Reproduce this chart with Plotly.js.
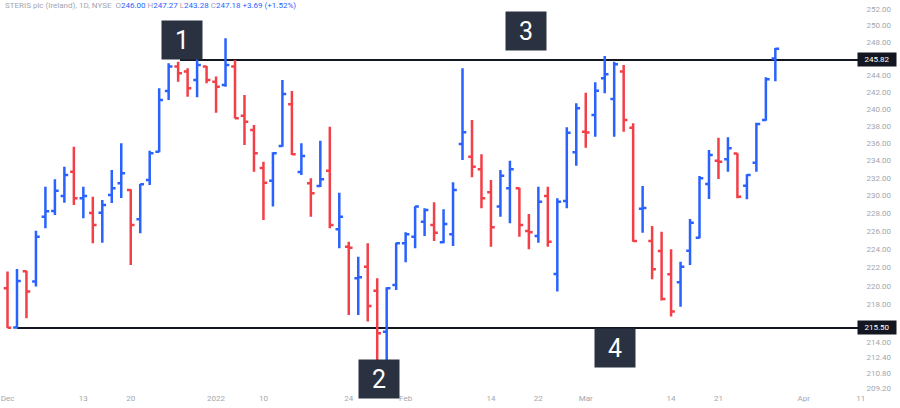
<!DOCTYPE html>
<html><head><meta charset="utf-8">
<script src="https://cdn.plot.ly/plotly-3.0.1.min.js"></script>
<style>html,body{margin:0;padding:0;background:#fff;}#chart{width:900px;height:408px;}</style>
</head><body><div id="chart"></div>
<script>
const dates = ['2021-12-01','2021-12-02','2021-12-03','2021-12-06','2021-12-07','2021-12-08','2021-12-09','2021-12-10',
'2021-12-13','2021-12-14','2021-12-15','2021-12-16','2021-12-17','2021-12-20','2021-12-21','2021-12-22','2021-12-23',
'2021-12-27','2021-12-28','2021-12-29','2021-12-30','2021-12-31','2022-01-03','2022-01-04','2022-01-05','2022-01-06',
'2022-01-07','2022-01-10','2022-01-11','2022-01-12','2022-01-13','2022-01-14','2022-01-18','2022-01-19','2022-01-20',
'2022-01-21','2022-01-24','2022-01-25','2022-01-26','2022-01-27','2022-01-28','2022-01-31','2022-02-01','2022-02-02',
'2022-02-03','2022-02-04','2022-02-07','2022-02-08','2022-02-09','2022-02-10','2022-02-11','2022-02-14','2022-02-15',
'2022-02-16','2022-02-17','2022-02-18','2022-02-22','2022-02-23','2022-02-24','2022-02-25','2022-02-28','2022-03-01',
'2022-03-02','2022-03-03','2022-03-04','2022-03-07','2022-03-08','2022-03-09','2022-03-10','2022-03-11','2022-03-14',
'2022-03-15','2022-03-16','2022-03-17','2022-03-18','2022-03-21','2022-03-22','2022-03-23','2022-03-24','2022-03-25',
'2022-03-28','2022-03-29'];

const openP = [219.75,215.55,221.60,220.47,227.61,228.25,229.93,232.70,229.68,228.02,
228.06,230.04,231.37,230.61,227.32,231.75,235.00,242.10,245.02,244.42,
243.42,245.02,243.22,242.82,245.02,239.19,237.51,233.12,231.67,235.65,
240.53,232.66,231.37,231.07,232.81,226.21,224.28,220.83,222.09,219.49,
215.11,220.11,224.66,225.39,227.05,226.68,224.77,225.65,235.89,234.42,
232.97,230.35,228.74,230.80,230.80,226.02,225.47,229.93,221.30,229.38,
234.93,237.31,239.27,243.62,241.16,244.42,237.78,228.50,224.91,223.81,
221.27,220.40,223.84,225.28,231.29,233.96,234.12,234.78,231.10,233.73,
238.68,246.00];

const highP = [221.55,221.84,221.65,226.05,230.99,231.83,233.27,235.57,230.99,229.85,
229.49,232.89,235.97,230.69,231.30,235.11,242.42,245.42,245.62,244.82,
245.91,245.10,243.82,248.46,245.82,241.63,238.10,233.84,234.93,243.42,
242.10,235.97,231.95,236.27,237.90,230.30,224.83,223.18,224.66,220.83,
219.86,224.72,225.87,228.78,228.55,229.23,228.44,231.49,244.82,238.68,
234.70,231.75,232.89,233.96,230.87,227.91,230.99,230.99,229.68,237.83,
240.65,241.90,243.14,246.31,245.62,245.22,238.29,231.07,226.57,225.94,
224.00,222.63,227.35,232.21,235.19,236.62,236.66,234.81,232.40,238.36,
243.74,247.27];

const lowP = [215.50,215.45,216.53,219.93,226.32,227.80,229.18,228.93,227.43,224.66,
224.72,229.15,229.70,222.28,225.76,231.18,234.93,241.04,243.22,241.43,
241.36,243.02,239.54,242.62,238.85,235.77,232.70,227.24,228.74,235.57,
234.61,232.32,227.61,230.95,226.32,224.11,216.89,216.89,216.18,211.62,
211.31,219.57,222.57,224.11,225.47,224.91,224.66,224.36,234.04,232.06,
228.55,224.28,227.61,226.87,225.39,224.00,224.72,224.28,219.39,228.55,
233.38,235.46,236.73,241.83,236.73,237.31,224.83,225.83,220.73,218.42,
216.71,217.77,222.28,225.21,229.60,231.86,232.70,229.68,229.56,232.70,
238.60,243.28];

const closeP = [215.52,220.54,219.39,225.39,228.21,230.53,232.32,229.67,229.93,226.68,
228.93,230.80,232.51,226.68,231.26,234.81,241.04,245.02,244.22,242.42,
245.22,243.42,242.62,245.22,238.88,238.48,234.81,231.44,234.81,241.74,
234.70,234.50,230.24,231.83,226.68,227.61,224.17,220.94,217.85,214.94,
219.75,224.66,225.65,228.74,228.36,225.83,226.80,230.61,237.24,233.27,
229.68,226.43,232.24,232.97,226.68,225.87,229.29,224.83,229.29,237.20,
240.06,237.22,242.14,244.10,245.30,238.68,224.91,228.57,221.81,218.60,
217.24,222.09,226.94,231.95,234.61,233.84,235.39,229.85,232.32,238.21,
243.49,247.18];

const tickDates = ['2021-12-01','2021-12-13','2021-12-20','2022-01-03','2022-01-10','2022-01-24','2022-02-01',
'2022-02-14','2022-02-22','2022-03-01','2022-03-14','2022-03-21','2022-04-01','2022-04-11'];
const tickLabels = ['Dec','13','20','2022','10','24','Feb','14','22','Mar','14','21','Apr','11'];
const yTicks = [252,250,248,244,242,240,238,236,234,232,230,228,226,224,222,220,218,214,212.4,210.8,209.2];
const levels = [245.82, 215.50];
const holidays = ['2021-12-24','2022-01-17','2022-02-21','2022-04-15'];
const boxLabels = ['1','2','3','4'];
const title = 'STERIS plc (Ireland), 1D, NYSE';

const BLUE = '#2962ff', RED = '#f23f48', GREY = '#a3a6af';
const W = 900, PH = 396;
const px = v => v / W;
const py = v => (PH - v) / PH;
const mid = d => d + ' 12:00';

const trace = {
  type: 'ohlc',
  x: dates.map(mid), open: openP, high: highP, low: lowP, close: closeP,
  increasing: {line: {color: BLUE, width: 2.5}},
  decreasing: {line: {color: RED, width: 2.5}},
  tickwidth: 0.4, hoverinfo: 'skip', showlegend: false
};

const n = closeP.length;
const chg = closeP[n-1] - closeP[n-2];
const pct = chg / closeP[n-2] * 100;
const sgn = v => (v >= 0 ? '+' : '') + v.toFixed(2);
const hdr = `<span style="color:${GREY}">${title}  O</span><span style="color:${BLUE}">${openP[n-1].toFixed(2)}</span>` +
  `<span style="color:${GREY}"> H</span><span style="color:${BLUE}">${highP[n-1].toFixed(2)}</span>` +
  `<span style="color:${GREY}"> L</span><span style="color:${BLUE}">${lowP[n-1].toFixed(2)}</span>` +
  `<span style="color:${GREY}"> C</span><span style="color:${BLUE}">${closeP[n-1].toFixed(2)} ${sgn(chg)} (${sgn(pct)}%)</span>`;

const boxPos = [[182, 40], [378.5, 379], [526, 31], [615, 348]];
const annotations = [
  {xref: 'paper', yref: 'paper', x: px(3), y: py(6), xanchor: 'left', yanchor: 'middle', showarrow: false,
   text: hdr, font: {size: 8, color: GREY}}
];
boxLabels.forEach((t, i) => annotations.push({
  xref: 'paper', yref: 'paper', x: px(boxPos[i][0]), y: py(boxPos[i][1]), xanchor: 'center', yanchor: 'middle',
  showarrow: false, text: t, font: {size: 25, color: '#ffffff', family: 'Roboto, sans-serif'},
  bgcolor: '#2a3242', width: 38, height: 36, borderpad: 1
}));
levels.forEach(l => annotations.push({
  xref: 'paper', yref: 'y', x: px(877), y: Math.log10(l), xanchor: 'center', yanchor: 'middle', showarrow: false,
  text: l.toFixed(2), font: {size: 8, color: '#ffffff'}, bgcolor: '#131722', borderpad: 2, width: 34
}));

const lineStarts = [px(180), px(17)];
const shapes = levels.map((l, i) => ({
  type: 'line', xref: 'paper', yref: 'y', x0: lineStarts[i], x1: px(858), y0: l, y1: l,
  line: {color: '#131722', width: 2}, layer: 'below'
}));

const layout = {
  width: 900, height: 408,
  margin: {l: 0, r: 0, t: 0, b: 12, pad: 0},
  paper_bgcolor: '#ffffff', plot_bgcolor: '#ffffff',
  font: {family: 'Roboto, sans-serif', size: 8, color: GREY},
  showlegend: false,
  xaxis: {
    type: 'date',
    range: ['2021-11-30 17:00', '2022-04-18 15:36'],
    rangebreaks: [{bounds: ['sat', 'mon']}, {values: holidays}],
    rangeslider: {visible: false},
    tickvals: tickDates.map(mid), ticktext: tickLabels,
    ticklabelstandoff: -4,
    showgrid: false, zeroline: false, showline: false, ticks: '',
    tickfont: {size: 8, color: GREY}
  },
  yaxis: {
    type: 'log', side: 'right',
    range: [Math.log10(208.42), Math.log10(253.17)],
    tickvals: yTicks, ticktext: yTicks.map(v => v.toFixed(2)),
    ticklabelposition: 'inside', ticklabelstandoff: 6,
    showgrid: false, zeroline: false, showline: false, ticks: '',
    tickfont: {size: 8, color: GREY}
  },
  shapes: shapes,
  annotations: annotations
};

Plotly.newPlot('chart', [trace], layout, {displayModeBar: false, staticPlot: true});
</script>
</body></html>
